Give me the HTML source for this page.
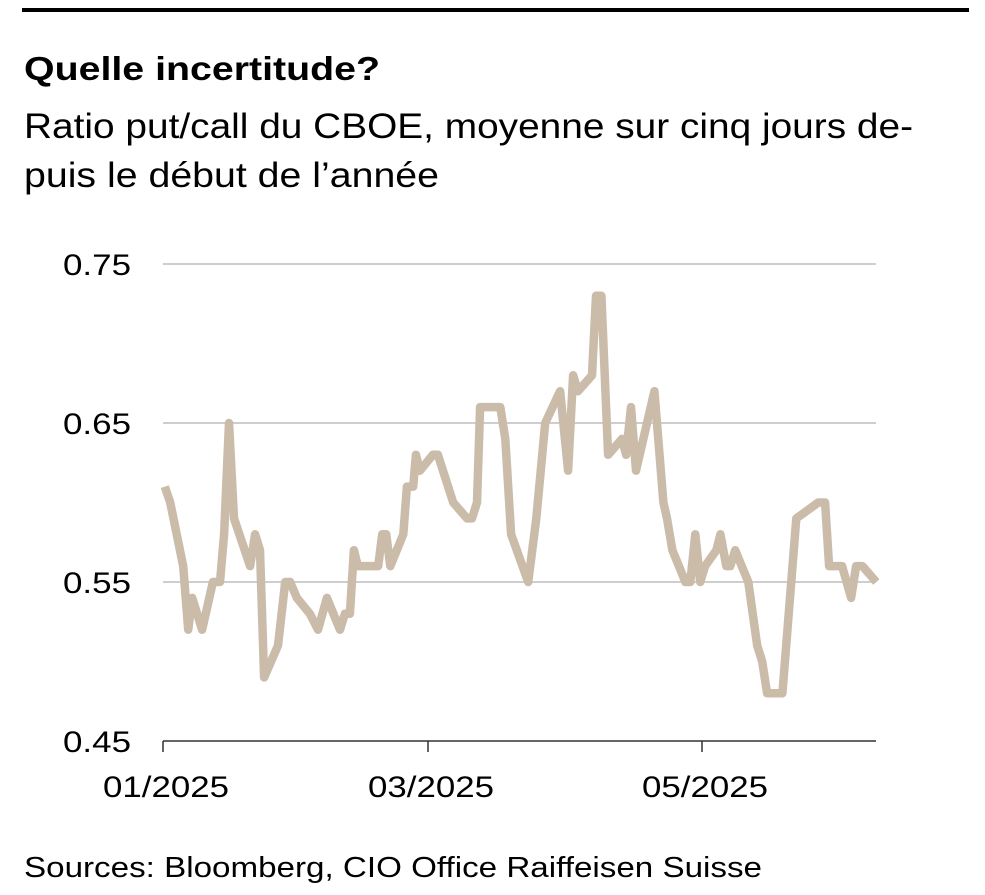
<!DOCTYPE html>
<html><head><meta charset="utf-8"><style>
body{margin:0;background:#fff;width:985px;height:895px;overflow:hidden;font-family:"Liberation Sans",sans-serif;color:#000}
svg{position:absolute;left:0;top:0}
text{font-family:"Liberation Sans",sans-serif}
</style></head><body>
<svg width="985" height="895">
<rect x="22" y="8" width="947" height="4" fill="#000"/>
<text x="24" y="80" font-size="33" font-weight="bold" textLength="356" lengthAdjust="spacingAndGlyphs">Quelle incertitude?</text>
<text x="24" y="138" font-size="35" textLength="889" lengthAdjust="spacingAndGlyphs">Ratio put/call du CBOE, moyenne sur cinq jours de-</text>
<text x="24" y="187" font-size="35" textLength="415" lengthAdjust="spacingAndGlyphs">puis le début de l’année</text>
<g id="grid"></g><g id="ax"></g><path id="line" fill="none" stroke="#cbbcaa" stroke-width="8.5" stroke-linejoin="round" stroke-linecap="butt"/>
<text x="24" y="877" font-size="29" textLength="738" lengthAdjust="spacingAndGlyphs">Sources: Bloomberg, CIO Office Raiffeisen Suisse</text>
</svg>
<script>
const days=[0.4,1.6,4.5,5.6,6.5,8.7,11.1,12.7,13.6,14.7,15.8,19.4,20.5,21.6,22.5,25.6,27.2,28.3,29.8,32.7,34.5,36.5,39.4,40.5,41.6,42.5,43.4,47.9,48.8,49.7,50.6,53.5,54.3,55.7,56.3,57.2,60.1,61.2,64.6,67.7,68.8,69.9,70.6,75.1,76.2,77.5,81.3,83.1,85.1,88.4,90.2,91.3,92.4,95.5,96.4,97.6,99.1,102.2,103.1,104.2,105.3,109.4,111.4,112.2,113.4,116.3,117.4,118.5,119.6,120.7,123.2,124.1,125.4,126.3,127.4,130.3,132.3,133.4,134.5,137.9,141.0,145.9,147.4,148.3,151.2,153.2,154.3,155.7,158.8];
const values=[0.61,0.60,0.56,0.52,0.54,0.52,0.55,0.55,0.58,0.65,0.59,0.56,0.58,0.57,0.49,0.51,0.55,0.55,0.54,0.53,0.52,0.54,0.52,0.53,0.53,0.57,0.56,0.56,0.58,0.58,0.56,0.58,0.61,0.61,0.63,0.62,0.63,0.63,0.60,0.59,0.59,0.60,0.66,0.66,0.64,0.58,0.55,0.59,0.65,0.67,0.62,0.68,0.67,0.68,0.73,0.73,0.63,0.64,0.63,0.66,0.62,0.67,0.60,0.59,0.57,0.55,0.55,0.58,0.55,0.56,0.57,0.58,0.56,0.56,0.57,0.55,0.51,0.50,0.48,0.48,0.59,0.60,0.60,0.56,0.56,0.54,0.56,0.56,0.55];
const yTicks=[0.45,0.55,0.65,0.75];
const yTickLabels=["0.45","0.55","0.65","0.75"];
const xTicks=[0,59,120];
const xTickLabels=["01/2025","03/2025","05/2025"];
const X=d=>163+d*(702-163)/120;
const Y=v=>741-(v-0.45)*(741-264)/0.3;
const NS="http://www.w3.org/2000/svg";
const grid=document.getElementById('grid'),ax=document.getElementById('ax');
function mk(tag,attrs,parent){const e=document.createElementNS(NS,tag);for(const k in attrs)e.setAttribute(k,attrs[k]);parent.appendChild(e);return e;}
yTicks.forEach((t,i)=>{
  if(t>0.45){const l=mk('line',{x1:163,x2:876,y1:Y(t),y2:Y(t),stroke:'#bdbdbd','stroke-width':1.5},grid);
  
  }
  const tx=mk('text',{x:63,y:Y(t)+11,'font-size':30,textLength:68,lengthAdjust:'spacingAndGlyphs'},ax);
  tx.textContent=yTickLabels[i];
  
  
});
const base=mk('line',{x1:163,x2:876,y1:741,y2:741,stroke:'#333','stroke-width':1.5},ax);


xTicks.forEach((t,i)=>{
  const tk=mk('line',{x1:X(t),x2:X(t),y1:741,y2:752,stroke:'#333','stroke-width':1.5},ax);
  
  
  const tx=mk('text',{x:X(t)+3-63,y:797,'font-size':30,textLength:126,lengthAdjust:'spacingAndGlyphs'},ax);
  tx.textContent=xTickLabels[i];
  
  
});
document.getElementById('line').setAttribute('d',days.map((d,i)=>(i?'L':'M')+X(d).toFixed(1)+' '+Y(values[i]).toFixed(1)).join(' '));
</script>
</body></html>
